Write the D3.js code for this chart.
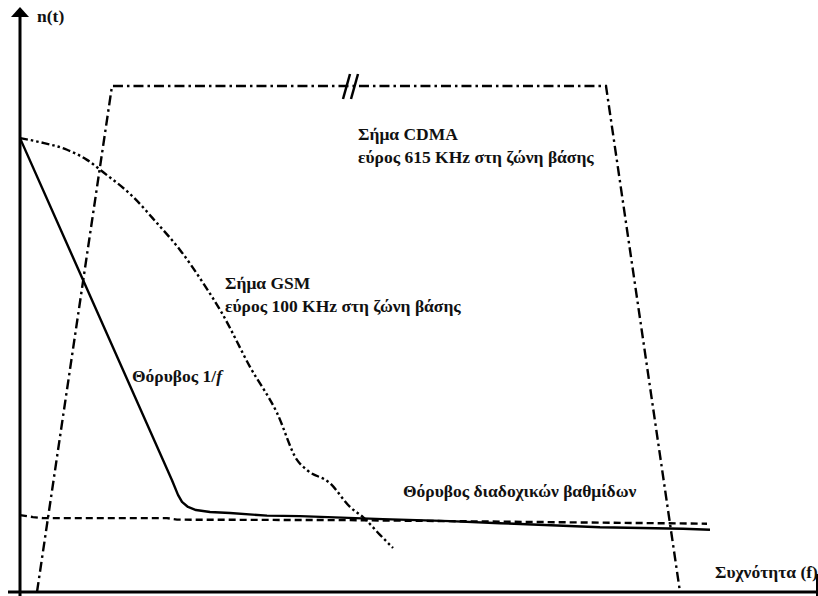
<!DOCTYPE html>
<html>
<head>
<meta charset="utf-8">
<script src="https://cdn.jsdelivr.net/npm/d3@7"></script>
<style>
html,body{margin:0;padding:0;background:#fff;overflow:hidden;}
svg{display:block;}
</style>
</head>
<body>
<svg id="chart" width="818" height="596"></svg>
<script>
// Frequency (x) and amplitude (y, 0..100) readings of each curve
const cdmaX = [17, 92, 586, 660];
const cdmaY = [0, 100, 100, 0];

const gsmX = [0, 20, 47, 67, 83, 113, 137, 160, 183, 202, 230, 257, 277, 287, 310, 330, 343, 360, 373];
const gsmY = [89.7, 88.9, 87.4, 85.4, 83.0, 78.1, 72.9, 67.6, 61.1, 55.1, 44.5, 35.4, 26.1, 24.1, 21.5, 16.8, 14.8, 11.3, 8.7];

const flickerX = [0, 152, 158, 162, 168, 176, 190, 210, 247, 280, 363, 430, 480, 580, 663, 690];
const flickerY = [89.7, 22.1, 19.2, 17.8, 16.8, 16.2, 15.8, 15.6, 15.1, 15.0, 14.4, 14.0, 13.6, 12.8, 12.5, 12.3];

const stageX = [0, 13, 23, 147, 157, 330, 687];
const stageY = [15.2, 14.8, 14.6, 14.6, 14.3, 14.2, 13.5];

const labels = [
  {lines: ["n(t)"], x: 17, y: 112.7},
  {lines: ["Σήμα CDMA", "εύρος 615 KHz στη ζώνη βάσης"], x: 338, y: 89.3},
  {lines: ["Σήμα GSM", "εύρος 100 KHz στη ζώνη βάσης"], x: 205, y: 59.9},
  {lines: ["Θόρυβος 1/", "f"], x: 112, y: 41.5, italicTail: true},
  {lines: ["Θόρυβος διαδοχικών βαθμίδων"], x: 383, y: 18.8},
  {lines: ["Συχνότητα (f)"], x: 695, y: 2.8}
];

const FONT = "'Liberation Serif', 'Times New Roman', 'DejaVu Serif', serif";
const FS = 17.5;

const svg = d3.select("#chart");
const x = d3.scaleLinear().domain([0, 800]).range([20, 820]);
const y = d3.scaleLinear().domain([0, 100]).range([592, 86]);

const line = d3.line().x(d => x(d[0])).y(d => y(d[1]));
const smooth = d3.line().x(d => x(d[0])).y(d => y(d[1])).curve(d3.curveMonotoneX);

// Axes
svg.append("line").attr("x1", 8).attr("x2", 818).attr("y1", y(0)).attr("y2", y(0))
  .attr("stroke", "#000").attr("stroke-width", 3);
svg.append("line").attr("x1", x(0)).attr("x2", x(0)).attr("y1", 14).attr("y2", 596)
  .attr("stroke", "#000").attr("stroke-width", 3);
svg.append("path").attr("d", `M${x(0)},7 L${x(0)-9},17 L${x(0)+9},17 Z`).attr("fill", "#000");
svg.append("line").attr("x1", 817).attr("x2", 817).attr("y1", 574).attr("y2", 596)
  .attr("stroke", "#000").attr("stroke-width", 2);

// CDMA trapezoid
svg.append("path").datum(d3.zip(cdmaX, cdmaY)).attr("d", line)
  .attr("fill", "none").attr("stroke", "#000").attr("stroke-width", 2.4)
  .attr("stroke-dasharray", "10,4,2.5,4");

// break mark on the top edge
[343, 351].forEach(bx => {
  svg.append("line").attr("x1", bx + 7).attr("x2", bx).attr("y1", 74).attr("y2", 99)
    .attr("stroke", "#000").attr("stroke-width", 2.5);
});

// GSM curve
svg.append("path").datum(d3.zip(gsmX, gsmY)).attr("d", smooth)
  .attr("fill", "none").attr("stroke", "#000").attr("stroke-width", 2.4)
  .attr("stroke-dasharray", "8,3,2.5,3,2.5,3");

// stage noise (dashed)
svg.append("path").datum(d3.zip(stageX, stageY)).attr("d", line)
  .attr("fill", "none").attr("stroke", "#000").attr("stroke-width", 2.4)
  .attr("stroke-dasharray", "7,4");

// 1/f noise
svg.append("path").datum(d3.zip(flickerX, flickerY)).attr("d", line)
  .attr("fill", "none").attr("stroke", "#000").attr("stroke-width", 2.4)
  .attr("stroke-linejoin", "round");

// Labels
labels.forEach(l => {
  if (l.italicTail) {
    const t = svg.append("text").attr("x", x(l.x)).attr("y", y(l.y))
      .attr("font-family", FONT).attr("font-weight", "bold").attr("font-size", FS).attr("fill", "#111");
    t.append("tspan").text(l.lines[0]);
    t.append("tspan").attr("font-style", "italic").text(l.lines[1]);
  } else {
    l.lines.forEach((s, i) => {
      svg.append("text").attr("x", x(l.x)).attr("y", y(l.y) + i * 23)
        .attr("font-family", FONT).attr("font-weight", "bold")
        .attr("font-size", FS).attr("fill", "#111").text(s);
    });
  }
});
</script>
</body>
</html>
